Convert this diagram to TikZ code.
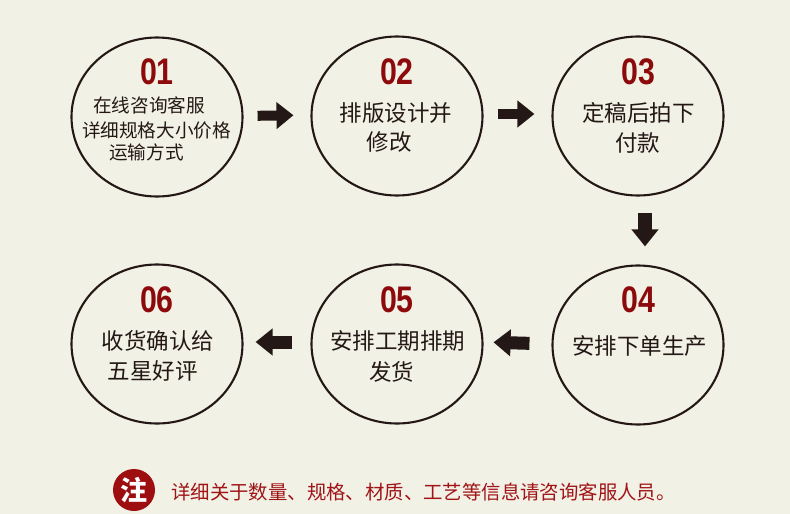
\documentclass[tikz,border=0pt]{standalone}
\usepackage{fontspec}
\newfontfamily\cjk{Noto Sans CJK SC}
\newfontfamily\numfont{Liberation Sans}
\usetikzlibrary{shapes.geometric,arrows.meta}
\definecolor{bg}{HTML}{F2F1E5}
\definecolor{ink}{HTML}{231815}
\definecolor{numred}{HTML}{8C0A0C}
\definecolor{notered}{HTML}{A01418}
\definecolor{notecirc}{HTML}{9E0D10}
\tikzset{
  stepcirc/.style={ellipse, draw=ink, line width=2.1pt, minimum width=171pt, minimum height=159pt, inner sep=0pt},
  stepnum/.style={text=numred, inner sep=0pt, font=\numfont\bfseries\fontsize{37}{37}\selectfont},
  steptext/.style={text=ink, inner sep=0pt, font=\cjk\fontsize{22.5}{22.5}\selectfont},
  smalltext/.style={text=ink, inner sep=0pt, font=\cjk\fontsize{18.6}{18.6}\selectfont},
  blockarrow/.style={draw=ink, line width=#1, -{Triangle[length=17pt,width=26pt]}},
}
\newcommand{\stepnumber}[1]{\scalebox{0.82}[1]{#1}}
\begin{document}
\begin{tikzpicture}[x=1pt,y=-1pt]
\fill[bg] (0,0) rectangle (790,514);
\useasboundingbox (0,0) rectangle (790,514);

% circles
\node[stepcirc] (c1) at (157,117) {};
\node[stepcirc] (c2) at (397,116) {};
\node[stepcirc] (c3) at (638,116) {};
\node[stepcirc] (c4) at (638,345) {};
\node[stepcirc] (c5) at (397,344) {};
\node[stepcirc] (c6) at (157,344) {};

% numbers
\node[stepnum] (n1) at (157,72) {\stepnumber{01}};
\node[stepnum] (n2) at (397,72) {\stepnumber{02}};
\node[stepnum] (n3) at (638,72) {\stepnumber{03}};
\node[stepnum] (n4) at (638,300) {\stepnumber{04}};
\node[stepnum] (n5) at (397,300) {\stepnumber{05}};
\node[stepnum] (n6) at (157,300) {\stepnumber{06}};

% texts
\node[smalltext] (t1a) at (149,105) {在线咨询客服};
\node[smalltext] (t1b) at (156.5,130) {详细规格大小价格};
\node[smalltext] (t1c) at (146.5,152) {运输方式};

\node[steptext] (t2a) at (396,113) {排版设计并};
\node[steptext] (t2b) at (389,142) {修改};

\node[steptext] (t3a) at (638.5,113) {定稿后拍下};
\node[steptext] (t3b) at (637.5,143) {付款};

\node[steptext] (t4a) at (639.5,346) {安排下单生产};

\node[steptext] (t5a) at (397.5,341) {安排工期排期};
\node[steptext] (t5b) at (391.5,372) {发货};

\node[steptext] (t6a) at (158,341) {收货确认给};
\node[steptext] (t6b) at (152.5,371) {五星好评};

% arrows
\draw[blockarrow=10pt, shorten <=14pt, shorten >=17pt] ([yshift=1pt]c1.east) -- ([yshift=1pt]c2.west);
\draw[blockarrow=10pt, shorten <=14pt, shorten >=17pt] ([yshift=2pt]c2.east) -- ([yshift=2pt]c3.west);
\draw[blockarrow=14pt, shorten <=16pt, shorten >=18pt] ([xshift=7pt]c3.south) -- ([xshift=7pt]c4.north);
\draw[blockarrow=13pt, shorten <=22pt, shorten >=10pt] ([yshift=1pt]c4.west) -- ([yshift=2pt]c5.east);
\draw[blockarrow=13pt, shorten <=18pt, shorten >=12pt] ([yshift=2pt]c5.west) -- ([yshift=2pt]c6.east);

% note
\node[circle, fill=notecirc, minimum size=42pt, inner sep=0pt, text=white,
      font=\cjk\bfseries\fontsize{27}{27}\selectfont] (note) at (134,490) {注};
\node[anchor=west, inner sep=0pt, text=notered, font=\cjk\fontsize{19.4}{19.4}\selectfont]
      (notetext) at (171,492) {详细关于数量、规格、材质、工艺等信息请咨询客服人员。};
\end{tikzpicture}
\end{document}
